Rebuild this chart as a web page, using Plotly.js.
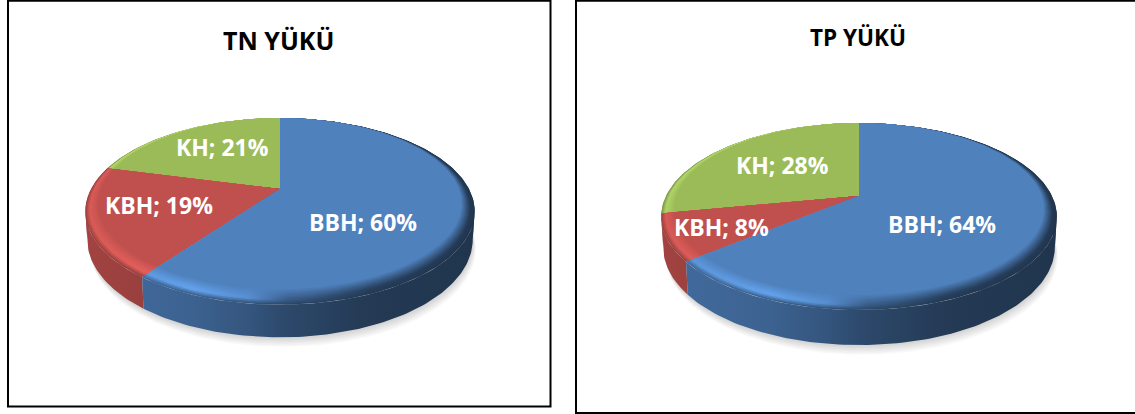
<!DOCTYPE html>
<html>
<head>
<meta charset="utf-8">
<script src="https://cdn.plot.ly/plotly-3.0.1.min.js"></script>
<style>html,body{margin:0;padding:0;background:#fff}#chart{width:1135px;height:414px}</style>
</head>
<body>
<div id="chart"></div>
<script>
// ---- data ----
const categories = ["BBH", "KBH", "KH"];
const tnValues = [60, 19, 21];
const tpValues = [64, 8, 28];
const chartTitles = ["TN YÜKÜ", "TP YÜKÜ"];
const sliceColors = [[79,129,189],[192,80,77],[155,187,89]];

// ---- layout of the two perspective pies (pixels of the 1135x414 page) ----
const tnPie = {values:tnValues, title:chartTitles[0], cx:280, ay:189, rx:189, a:88, k:0.24, depth:32.5,
  titlePos:[278,40], titleSize:25, framePos:[8,0.7,550.5,406.5],
  labelPos:[[363,222],[159,205],[222,147]]};
const tpPie = {values:tpValues, title:chartTitles[1], cx:859, ay:196, rx:193, a:89, k:0.22, depth:35,
  titlePos:[858,37], titleSize:22.5, framePos:[576,0.7,1140,413],
  labelPos:[[942,224],[721,227],[782,165]]};

// colour factors across the width of a pie, [position, wall, bevel highlight]
const shadeStops = [[0,0.84,1.12],[0.28,0.76,1.27],[0.42,0.66,1.12],[0.52,0.56,0.72],[0.72,0.45,0.5],[1,0.41,0.44]];

const scale = (c,f)=>'rgb('+c.map(v=>Math.min(255,Math.round(v*f))).join(',')+')';

function project(p, th, r){
  const s = 1/(1+p.k*r*Math.cos(th));
  return [p.cx + p.rx*r*Math.sin(th)*s, p.ay - p.a*r*Math.cos(th)*s];
}
function arc(th0, th1, rf, shift){
  const n = Math.max(2, Math.ceil(Math.abs(th1-th0)/0.02));
  const out = [];
  for(let i=0;i<=n;i++){
    const th = th0+(th1-th0)*i/n;
    const pt = rf(th);
    out.push(shift ? shift(pt,th) : pt);
  }
  return out;
}
const base = {type:'scatter', mode:'lines', fill:'toself', line:{width:0}, hoverinfo:'skip', showlegend:false};

function buildPie(p){
  const traces = [];
  const xMin = p.cx - p.rx*1.04, xMax = p.cx + p.rx*1.04;
  const lower = (pt,th)=>[p.cx+(pt[0]-p.cx)*0.99, pt[1]+p.depth-6*(1-Math.abs(Math.cos(th)))];
  const rim = th=>project(p,th,1);

  // soft shadow under the disc
  for(let i=1;i<=6;i++){
    const pts = arc(0,2*Math.PI,rim,(pt,th)=>{const q=lower(pt,th);return [q[0]+i*0.5,q[1]+i*1.6];});
    traces.push(Object.assign({},base,{x:pts.map(q=>q[0]),y:pts.map(q=>q[1]),fillcolor:'rgba(0,0,0,0.028)'}));
  }
  // slice angles
  const total = p.values.reduce((a,b)=>a+b,0);
  let acc = 0;
  const spans = p.values.map(v=>{const s=[acc,acc+v];acc+=v;return s.map(w=>w/total*2*Math.PI);});
  const order = [2,1,0];
  const thR = Math.acos(-p.k), thL = 2*Math.PI-thR;   // silhouette angles

  // side wall, split at the silhouette so the outline stays vertical there
  order.forEach(i=>{
    const [t0,t1] = spans[i], c = sliceColors[i];
    const cuts = [t0].concat([thR,thL].filter(a=>a>t0&&a<t1),[t1]);
    for(let j=0;j<cuts.length-1;j++){
      const pts = arc(cuts[j],cuts[j+1],rim).concat(arc(cuts[j+1],cuts[j],rim,lower));
      traces.push(Object.assign({},base,{x:pts.map(q=>q[0]),y:pts.map(q=>q[1]),
        fillgradient:{type:'horizontal',start:xMin,stop:xMax,
          colorscale:shadeStops.map(s=>[s[0],scale(c,s[1])])}}));
    }
  });
  // bevel then flat top
  const steps = 11, b = 0.105, peak = 0.3;
  const shade = (s,t)=> t<peak ? s[1]+(s[2]-s[1])*t/peak : s[2]+(1-s[2])*(t-peak)/(1-peak);
  order.forEach(i=>{
    const [t0,t1] = spans[i], c = sliceColors[i];
    for(let s=0;s<=steps;s++){
      const t = s/steps;
      const rf = th=>project(p,th,1-t*b*(0.5-0.5*Math.cos(th)));
      const pts = [[p.cx,p.ay]].concat(arc(t0,t1,rf));
      const f = s===steps
        ? {fillcolor:scale(c,1)}
        : {fillgradient:{type:'horizontal',start:xMin,stop:xMax,
            colorscale:shadeStops.map(q=>[q[0],scale(c,shade(q,t))])}};
      traces.push(Object.assign({},base,{x:pts.map(q=>q[0]),y:pts.map(q=>q[1])},f));
    }
  });
  return traces;
}

const pies = [tnPie,tpPie];
const data = pies.flatMap(buildPie);
const annotations = [], shapes = [];
pies.forEach(p=>{
  annotations.push({x:p.titlePos[0],y:p.titlePos[1],xref:'x',yref:'y',showarrow:false,text:p.title,
    font:{family:'"Open Sans"',size:p.titleSize,weight:700,color:'#000'}});
  p.values.forEach((v,i)=>annotations.push({x:p.labelPos[i][0],y:p.labelPos[i][1],xref:'x',yref:'y',showarrow:false,
    text:categories[i]+'; '+v+'%',font:{family:'"Open Sans"',size:23,weight:700,color:'#fff'}}));
  const [x0,y0,x1,y1] = p.framePos;
  shapes.push({type:'rect',xref:'x',yref:'y',x0,y0,x1,y1,line:{color:'#000',width:2},layer:'below'});
});

Plotly.newPlot('chart',data,{
  width:1135,height:414,margin:{l:0,r:0,t:0,b:0},
  paper_bgcolor:'#fff',plot_bgcolor:'#fff',showlegend:false,
  xaxis:{range:[0,1135],visible:false,fixedrange:true},
  yaxis:{range:[414,0],visible:false,fixedrange:true},
  annotations,shapes
},{displayModeBar:false,staticPlot:true});
</script>
</body>
</html>
